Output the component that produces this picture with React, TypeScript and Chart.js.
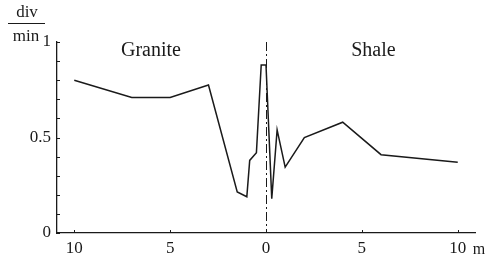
import React, { useEffect, useRef } from "react";
import { Chart, registerables } from "chart.js";

Chart.register(...registerables);

// Distance from contact (m): negative = granite side, positive = shale side
const distances = [-10, -7, -5, -3, -1.5, -1, -0.85, -0.5, -0.25, 0, 0.3, 0.58, 1, 2, 4, 6, 10];
// Count rate (div/min)
const rates = [0.8, 0.71, 0.71, 0.775, 0.215, 0.19, 0.38, 0.42, 0.88, 0.88, 0.18, 0.54, 0.345, 0.5, 0.58, 0.41, 0.37];

const xTickValues = [-10, -5, 0, 5, 10];
const yLabelValues = [0, 0.5, 1];
const yMinorStep = 0.1;
const regionLabels = ["Granite", "Shale"];
const regionLabelX = [-6.0, 5.6];
const yUnitTop = "div";
const yUnitBottom = "min";
const xUnit = "m";

const SERIF = "'Liberation Serif', 'DejaVu Serif', serif";
const INK = "#1a1a1a";

export default function App() {
  const ref = useRef<HTMLCanvasElement | null>(null);

  useEffect(() => {
    if (!ref.current) return;

    const overlay = {
      id: "overlay",
      afterDraw(chart: any) {
        const ctx = chart.ctx;
        const xs = chart.scales.x;
        const ys = chart.scales.y;
        const area = chart.chartArea;
        ctx.save();
        ctx.strokeStyle = INK;
        ctx.fillStyle = INK;
        ctx.lineWidth = 1;
        // y inner ticks
        for (let v = 0; v <= 1.0001; v += yMinorStep) {
          const py = Math.round(ys.getPixelForValue(v)) + 0.5;
          ctx.beginPath();
          ctx.moveTo(area.left, py);
          ctx.lineTo(area.left + 3, py);
          ctx.stroke();
        }
        // x inner ticks
        for (const v of xTickValues) {
          const px = Math.round(xs.getPixelForValue(v)) + 0.5;
          ctx.beginPath();
          ctx.moveTo(px, area.bottom);
          ctx.lineTo(px, area.bottom - 3);
          ctx.stroke();
        }
        // contact line (dash-dot)
        const x0 = Math.round(xs.getPixelForValue(0)) + 0.5;
        ctx.setLineDash([9, 3, 2, 3]);
        ctx.lineWidth = 1;
        ctx.beginPath();
        ctx.moveTo(x0, area.top);
        ctx.lineTo(x0, area.bottom);
        ctx.stroke();
        ctx.setLineDash([]);
        // region labels
        ctx.font = `20px ${SERIF}`;
        ctx.textAlign = "center";
        ctx.textBaseline = "alphabetic";
        regionLabels.forEach((t, i) => {
          ctx.fillText(t, xs.getPixelForValue(regionLabelX[i]), area.top + 14);
        });
        // y unit fraction
        ctx.font = `17px ${SERIF}`;
        ctx.fillText(yUnitTop, 27, 17);
        ctx.beginPath();
        ctx.lineWidth = 1.2;
        ctx.moveTo(8, 23.5);
        ctx.lineTo(45, 23.5);
        ctx.stroke();
        ctx.fillText(yUnitBottom, 26, 41);
        // x unit
        ctx.font = `16px ${SERIF}`;
        ctx.textAlign = "left";
        ctx.fillText(xUnit, xs.getPixelForValue(10) + 15, area.bottom + 21);
        ctx.restore();
      },
    };

    const chart = new Chart(ref.current, {
      type: "line",
      data: {
        datasets: [
          {
            data: distances.map((d, i) => ({ x: d, y: rates[i] })),
            borderColor: INK,
            borderWidth: 1.5,
            pointRadius: 0,
            tension: 0,
            fill: false,
          },
        ],
      },
      options: {
        animation: false,
        responsive: false,
        maintainAspectRatio: false,
        events: [],
        layout: { padding: { top: 42, right: 14, left: 0, bottom: 0 } },
        plugins: { legend: { display: false }, tooltip: { enabled: false }, title: { display: false } },
        scales: {
          x: {
            type: "linear",
            min: -10.9,
            max: 10.9,
            afterFit: (s: any) => {
              s.height = 27;
            },
            afterBuildTicks: (s: any) => {
              s.ticks = xTickValues.map((v) => ({ value: v }));
            },
            grid: { display: true, drawOnChartArea: false, drawTicks: false },
            border: { display: true, color: INK, width: 1.3 },
            ticks: {
              color: INK,
              font: { family: SERIF, size: 17 },
              padding: 5,
              maxRotation: 0,
              autoSkip: false,
              callback: (v: any) => String(Math.abs(Number(v))),
            },
          },
          y: {
            type: "linear",
            min: 0,
            max: 1,
            afterFit: (s: any) => {
              s.width = 57;
            },
            afterBuildTicks: (s: any) => {
              s.ticks = yLabelValues.map((v) => ({ value: v }));
            },
            grid: { display: true, drawOnChartArea: false, drawTicks: false },
            border: { display: true, color: INK, width: 1.3 },
            ticks: {
              color: INK,
              font: { family: SERIF, size: 17 },
              padding: 6,
              callback: (v: any) => String(Number(v)),
            },
          },
        },
      },
      plugins: [overlay],
    });

    return () => chart.destroy();
  }, []);

  return (
    <div style={{ position: "absolute", left: 0, top: 0, width: 489, height: 260, background: "#fff" }}>
      <canvas ref={ref} width={489} height={260} style={{ display: "block", width: 489, height: 260 }} />
    </div>
  );
}
